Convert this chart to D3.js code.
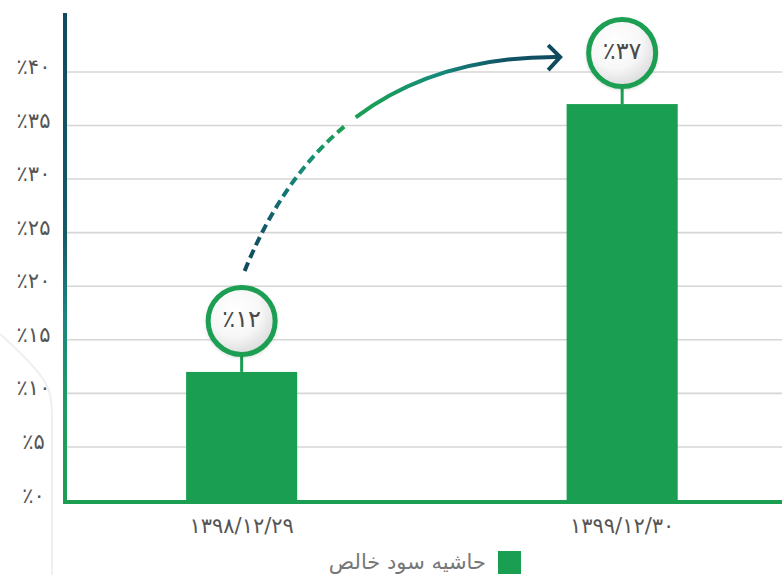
<!DOCTYPE html>
<html><head><meta charset="utf-8">
<script src="https://cdn.jsdelivr.net/npm/d3@7"></script>
<style>html,body{margin:0;padding:0;background:#fff;}svg{display:block;}</style>
</head><body>
<script>
const categories = ["۱۳۹۸/۱۲/۲۹", "۱۳۹۹/۱۲/۳۰"];
const values = [12, 37];
const valueLabels = ["٪۱۲", "٪۳۷"];
const tickValues = [0, 5, 10, 15, 20, 25, 30, 35, 40];
const tickLabels = ["٪۰", "٪۵", "٪۱۰", "٪۱۵", "٪۲۰", "٪۲۵", "٪۳۰", "٪۳۵", "٪۴۰"];
const seriesName = "حاشیه سود خالص";

const W = 782, H = 575;
const green = "#1a9e52", navy = "#0f4a5e";
const font = "DejaVu Sans";

const svg = d3.select("body").append("svg").attr("width", W).attr("height", H);
const defs = svg.append("defs");

const x = d3.scaleBand().domain(categories).range([51, 812.8]).paddingInner(0.708).paddingOuter(0.355);
const y = d3.scaleLinear().domain([0, 45.5]).range([500.5, 13]);
const axisX = 65;

// faint background decoration
svg.append("path")
  .attr("d", "M0,334 C20,352 40,372 46,384 C51,394 52,402 52,420 L52,575")
  .attr("fill", "none").attr("stroke", "#efefef").attr("stroke-width", 2);

// gridlines
svg.append("g").selectAll("line").data(tickValues.filter(d => d > 0)).join("line")
  .attr("x1", axisX).attr("x2", W)
  .attr("y1", d => y(d)).attr("y2", d => y(d))
  .attr("stroke", "#d6d6d6").attr("stroke-width", 1.6);

// tick labels
svg.append("g").selectAll("text").data(tickValues).join("text")
  .attr("x", 33.5).attr("y", d => y(d) - 4)
  .attr("dominant-baseline", "middle")
  .attr("text-anchor", "middle")
  .attr("font-family", font).attr("font-size", 21).attr("letter-spacing", 2).attr("fill", "#555")
  .text((d, i) => tickLabels[i]);

// bars
svg.append("g").selectAll("rect").data(values).join("rect")
  .attr("x", (d, i) => x(categories[i]))
  .attr("width", x.bandwidth())
  .attr("y", d => y(d))
  .attr("height", d => y(0) - y(d))
  .attr("fill", green);

// axes
const ag = defs.append("linearGradient").attr("id", "ag")
  .attr("gradientUnits", "userSpaceOnUse").attr("x1", 0).attr("x2", 0).attr("y1", 13).attr("y2", 504);
[[0, "#0f4a5e"], [0.45, "#135a69"], [0.62, "#198580"], [0.8, "#1c9c62"], [1, "#1a9e52"]]
  .forEach(s => ag.append("stop").attr("offset", s[0]).attr("stop-color", s[1]));
svg.append("line").attr("x1", axisX).attr("x2", W).attr("y1", y(0) + 1.5).attr("y2", y(0) + 1.5)
  .attr("stroke", green).attr("stroke-width", 4);
svg.append("line").attr("x1", axisX).attr("x2", axisX).attr("y1", 13).attr("y2", y(0) + 3.5)
  .attr("stroke", "url(#ag)").attr("stroke-width", 4);

// x labels
svg.append("g").selectAll("text").data(categories).join("text")
  .attr("x", d => x(d) + x.bandwidth() / 2).attr("y", 527)
  .attr("dominant-baseline", "middle").attr("text-anchor", "middle")
  .attr("font-family", font).attr("font-size", 21).attr("letter-spacing", 2.6).attr("fill", "#555")
  .text(d => d);

// bubble gradient
const rg = defs.append("radialGradient").attr("id", "rg").attr("cx", "40%").attr("cy", "35%").attr("r", "70%");
rg.append("stop").attr("offset", 0).attr("stop-color", "#ffffff");
rg.append("stop").attr("offset", 0.55).attr("stop-color", "#f7f7f7");
rg.append("stop").attr("offset", 1).attr("stop-color", "#d8d8d8");
const sh = defs.append("filter").attr("id", "sh").attr("x", "-30%").attr("y", "-30%").attr("width", "160%").attr("height", "160%");
sh.append("feDropShadow").attr("dx", 0).attr("dy", 1).attr("stdDeviation", 1.5).attr("flood-color", "#000").attr("flood-opacity", 0.15);

const bub = svg.append("g").selectAll("g").data(values).join("g")
  .attr("transform", (d, i) => `translate(${x(categories[i]) + x.bandwidth() / 2},${y(d) - 51})`);
bub.append("line").attr("x1", 0).attr("x2", 0).attr("y1", 30).attr("y2", 51)
  .attr("stroke", green).attr("stroke-width", 3);
bub.append("circle").attr("r", 33.5).attr("fill", "url(#rg)")
  .attr("stroke", green).attr("stroke-width", 5).attr("filter", "url(#sh)");
bub.append("text").attr("dominant-baseline", "middle").attr("text-anchor", "middle").attr("y", -1)
  .attr("font-family", font).attr("font-size", 24).attr("letter-spacing", 1).attr("fill", "#4a4a4a")
  .text((d, i) => valueLabels[i]);

// arrow
const c1 = x(categories[0]) + x.bandwidth() / 2, c2 = x(categories[1]) + x.bandwidth() / 2;
const p0 = [c1 + 3, y(values[0]) - 51 - 36 - 14];
const p2 = [c2 - 36 - 27, y(values[1]) - 51 + 4];
const p1 = [p0[0] + 87, p2[1] - 2];
const arrG = defs.append("linearGradient").attr("id", "arr")
  .attr("gradientUnits", "userSpaceOnUse").attr("x1", p0[0]).attr("x2", p2[0]).attr("y1", 0).attr("y2", 0);
[[0, "#0f4a5e"], [0.08, "#135f6b"], [0.18, "#178a7a"], [0.3, "#1a9e55"], [0.42, "#1a9e58"], [0.62, "#168a7c"], [0.82, "#115466"], [1, "#0f4a5e"]]
  .forEach(s => arrG.append("stop").attr("offset", s[0]).attr("stop-color", s[1]));
const path = d3.path();
path.moveTo(p0[0], p0[1]);
path.quadraticCurveTo(p1[0], p1[1], p2[0], p2[1]);
const ap = svg.append("path").attr("d", path.toString()).attr("fill", "none")
  .attr("stroke", "url(#arr)").attr("stroke-width", 4);
const L = ap.node().getTotalLength();
const dashLen = 0.47 * L;
const pat = [];
let acc = 0;
while (acc + 14 < dashLen) { pat.push(9, 5); acc += 14; }
pat.push(0, dashLen - acc, L, 0);
ap.attr("stroke-dasharray", pat.join(","));
svg.append("path")
  .attr("d", `M${p2[0] - 11},${p2[1] - 12} L${p2[0] + 1},${p2[1]} L${p2[0] - 11},${p2[1] + 13}`)
  .attr("fill", "none").attr("stroke", navy).attr("stroke-width", 4);

// legend
svg.append("rect").attr("x", 498).attr("y", 551).attr("width", 23).attr("height", 23).attr("fill", green);
svg.append("text").attr("x", 486).attr("y", 563).attr("text-anchor", "end").attr("dominant-baseline", "middle")
  .attr("font-family", font).attr("font-size", 21).attr("fill", "#777").text(seriesName);
</script>
</body></html>
